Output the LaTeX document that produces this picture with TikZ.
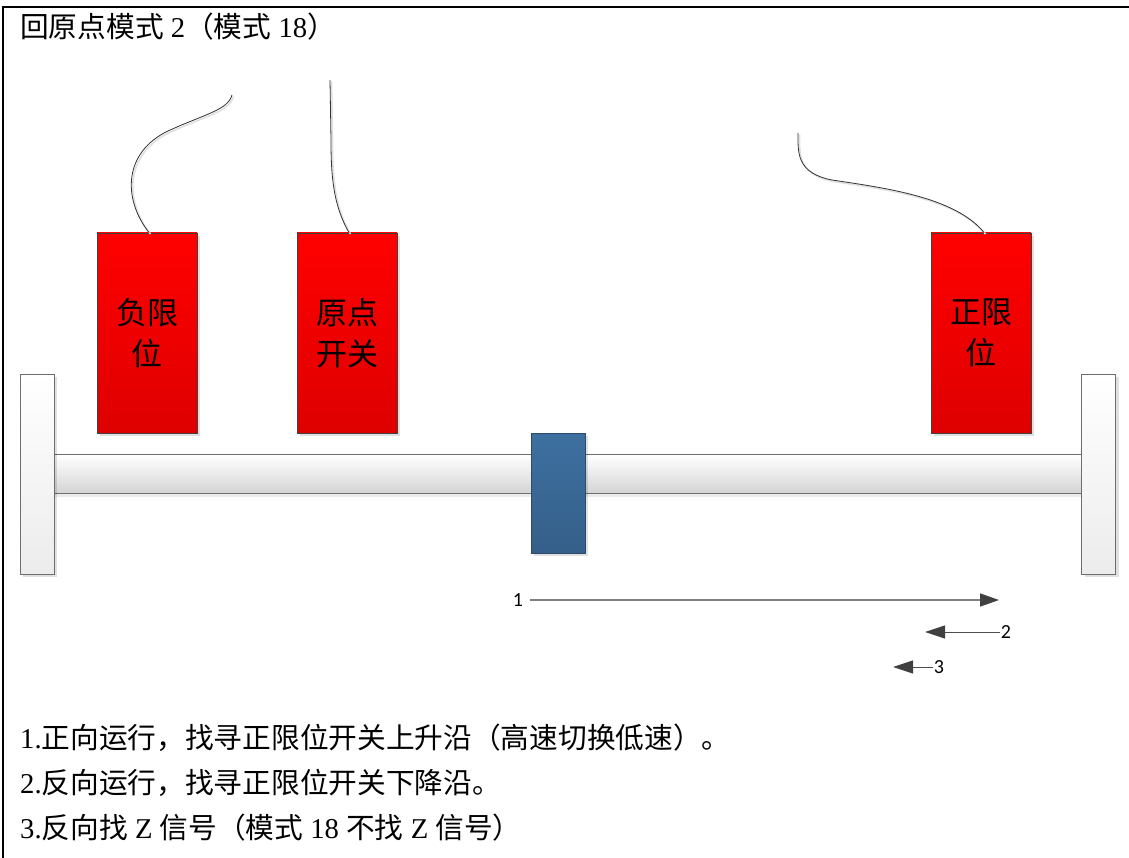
\documentclass[tikz,border=0pt]{standalone}
\usepackage{fontspec}
\setmainfont{Liberation Serif}
\newfontfamily\cjk{Noto Sans CJK SC}
\newfontfamily\lbl{Carlito}
\usetikzlibrary{arrows.meta,shadows}
\definecolor{redtop}{HTML}{FF0000}
\definecolor{redbot}{HTML}{DE0000}
\definecolor{boxline}{HTML}{404040}
\definecolor{bluetop}{HTML}{3D70A0}
\definecolor{bluebot}{HTML}{355F89}
\definecolor{blueline}{HTML}{2E4A66}
\definecolor{greyline}{HTML}{6E6E6E}
\definecolor{greybot}{HTML}{ECECEC}
\definecolor{headcol}{HTML}{404040}
\tikzset{
  shadowed/.style={drop shadow={shadow xshift=3pt, shadow yshift=-3pt, fill=black, opacity=0.12}},
  redbox/.style={shadowed, draw=boxline, line width=0.9pt, top color=redtop, bottom color=redbot,
    minimum width=100pt, minimum height=200pt, inner sep=0pt, align=center,
    font=\cjk\fontsize{31}{41}\selectfont},
  plate/.style={shadowed, draw=greyline, line width=0.9pt, top color=white, bottom color=greybot,
    minimum width=34pt, minimum height=200pt, inner sep=0pt},
  rod/.style={top color=white, bottom color=greybot!90!black, draw=none,
    minimum width=1095pt, minimum height=38pt, inner sep=0pt},
  slider/.style={shadowed, draw=blueline, line width=0.9pt, top color=bluetop, bottom color=bluebot,
    minimum width=54pt, minimum height=120pt, inner sep=0pt},
  cable/.style={draw=black!80, line width=0.8pt,
    preaction={draw=black!12, line width=1.6pt, transform canvas={shift={(1.5pt,-1.5pt)}}}},
  txt/.style={anchor=base west, inner sep=0pt, font=\fontsize{28.7}{33}\selectfont},
  numlbl/.style={inner sep=1pt, font=\lbl\fontsize{20}{24}\selectfont},
  bigarrow/.style={draw=black!50, line width=1.5pt, -{Triangle[length=19pt,width=13pt,color=headcol]}},
  smallarrow/.style={draw=black!70, line width=1pt, -{Triangle[length=20pt,width=13pt,color=headcol]}}
}
\begin{document}
\begin{tikzpicture}[x=1pt,y=-1pt]
\useasboundingbox (0,0) rectangle (1129,858);
\fill[white] (0,0) rectangle (1129,858);
% frame
\draw[line width=2pt] (3,858) -- (3,7) -- (1129,7);

% title
\node[txt] (title) at (20,38) {{\cjk 回原点模式} 2{\cjk （模式} 18{\cjk ）}};

% rod
\node[rod] (rodn) at (567.5,474) {};
\draw[greyline, line width=1.2pt] (rodn.north west) -- (rodn.north east);
\draw[greyline, line width=1.2pt] (rodn.south west) -- (rodn.south east);
\fill[black, opacity=0.08] (54,494) rectangle (1081,497);

% end plates
\node[plate] (lplate) at (37,474) {};
\node[plate] (rplate) at (1098.5,474) {};

% slider
\node[slider] (slide) at (558,493) {};

% red switches
\node[redbox] (neg) at (147,333) {负限\\位};
\node[redbox] (org) at (347,333) {原点\\开关};
\node[redbox] (pos) at (981,333) {正限\\位};

% cables
\coordinate (negend) at (232,95);
\coordinate (orgend) at (330,80);
\coordinate (posend) at (798,133);
\draw[cable] ([xshift=2pt]neg.north) .. controls (122,198) and (124,152) .. (168,131)
  .. controls (205,114) and (228,110) .. (negend);
\draw[cable] ([xshift=2pt]org.north) .. controls (333,205) and (331,175) .. (331,140) -- (orgend);
\draw[cable] ([xshift=3pt]pos.north) .. controls (955,197) and (885,188) .. (832,180)
  .. controls (796,173) and (798,152) .. (posend);

% motion arrows
\node[numlbl] (n1) at (518,600) {1};
\coordinate (t1) at (999,600);
\draw[bigarrow] ([xshift=6pt]n1.east) -- (t1);

\node[numlbl] (n2) at (1006,632) {2};
\coordinate (t2) at (925,632);
\draw[smallarrow] (n2.west) -- (t2);

\node[numlbl] (n3) at (939,667) {3};
\coordinate (t3) at (893,667);
\draw[smallarrow] (n3.west) -- (t3);

% description
\node[txt] (l1) at (20,748) {1.{\cjk 正向运行，找寻正限位开关上升沿（高速切换低速）。}};
\node[txt] (l2) at (20,793) {2.{\cjk 反向运行，找寻正限位开关下降沿。}};
\node[txt] (l3) at (20,838) {3.{\cjk 反向找} Z {\cjk 信号（模式} 18 {\cjk 不找} Z {\cjk 信号）}};
\end{tikzpicture}
\end{document}
